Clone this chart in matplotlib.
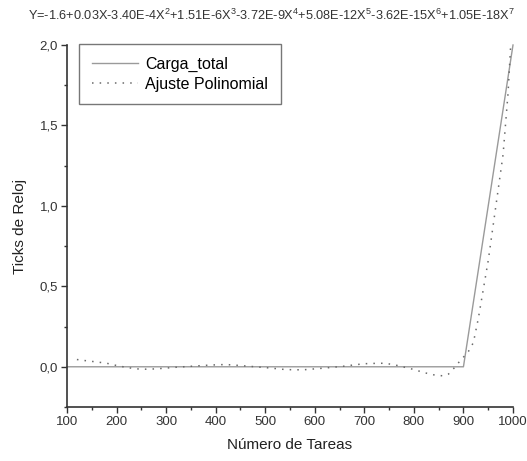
import matplotlib
matplotlib.use("Agg")
import matplotlib.pyplot as plt
from matplotlib.ticker import MultipleLocator, FuncFormatter

plt.rcParams['font.family'] = ['Liberation Sans', 'DejaVu Sans']
plt.rcParams['mathtext.fontset'] = 'custom'
plt.rcParams['mathtext.rm'] = 'Liberation Sans'
plt.rcParams['mathtext.default'] = 'regular'

# Carga total medida
tareas = [100, 200, 300, 400, 500, 600, 700, 800, 900, 1000]
carga_total = [0.0, 0.0, 0.0, 0.0, 0.0, 0.0, 0.0, 0.0, 0.0, 2.0]

# Curva del ajuste polinomial (grado 7)
tareas_ajuste = [120, 140, 160, 180, 200, 220, 240, 260, 280, 300, 320, 340,
                 360, 380, 400, 420, 440, 460, 480, 500, 520, 540, 560, 580,
                 600, 620, 640, 660, 680, 700, 720, 740, 760, 780, 800, 820,
                 840, 860, 870, 880, 890, 900, 910, 920, 930, 940, 950, 960,
                 970, 980, 990, 995]
ajuste = [0.045, 0.037, 0.030, 0.022, 0.008, -0.004, -0.013, -0.015, -0.013,
          -0.008, -0.003, 0.001, 0.005, 0.009, 0.012, 0.014, 0.010, 0.005,
          0.000, -0.005, -0.011, -0.017, -0.019, -0.018, -0.013, -0.008,
          -0.002, 0.004, 0.012, 0.019, 0.021, 0.022, 0.013, -0.002, -0.017,
          -0.036, -0.050, -0.057, -0.045, -0.012, 0.025, 0.060, 0.095, 0.150,
          0.300, 0.480, 0.660, 0.880, 1.100, 1.320, 1.700, 1.980]

titulo = (r"Y=-1.6+0.03X-3.40E-4X$^2$+1.51E-6X$^3$-3.72E-9X$^4$"
          r"+5.08E-12X$^5$-3.62E-15X$^6$+1.05E-18X$^7$")

fig = plt.figure(figsize=(5.27, 4.61), dpi=100)
ax = fig.add_axes([67 / 527, 1 - 407 / 461, 446 / 527, 362 / 461])

ax.plot(tareas, carga_total, '-', color='#9a9a9a', linewidth=1.0,
        label='Carga_total', clip_on=False)
ax.plot(tareas_ajuste, ajuste, linestyle=(0, (1, 4)), color='#6a6a6a',
        linewidth=1.1, label='Ajuste Polinomial')

ax.set_xlim(100, 1000)
ax.set_ylim(-0.25, 2.0)
ax.xaxis.set_major_locator(MultipleLocator(100))
ax.xaxis.set_minor_locator(MultipleLocator(50))
ax.yaxis.set_major_locator(MultipleLocator(0.5))
ax.yaxis.set_minor_locator(MultipleLocator(0.25))
ax.yaxis.set_major_formatter(FuncFormatter(lambda v, p: f"{v:.1f}".replace('.', ',')))

for lado in ('top', 'right'):
    ax.spines[lado].set_visible(False)
for lado in ('left', 'bottom'):
    ax.spines[lado].set_linewidth(1.2)
    ax.spines[lado].set_color('#333333')

ax.tick_params(which='major', direction='out', length=4, width=1.0,
               labelsize=9.5, colors='#333333', pad=2.5)
ax.tick_params(which='minor', direction='out', length=2.5, width=1.0,
               colors='#333333')

ax.set_xlabel("Número de Tareas", fontsize=11, color='#222222', labelpad=7)
ax.set_ylabel("Ticks de Reloj", fontsize=11, color='#222222', labelpad=9)

fig.text(272 / 527, 1 - 15 / 461, titulo, ha='center', va='center',
         fontsize=9.2, color='#333333')

leg = ax.legend(loc='upper left', bbox_to_anchor=(79 / 527, 1 - 44 / 461),
                bbox_transform=fig.transFigure, fontsize=11.5, fancybox=False,
                framealpha=1, edgecolor='#777777', borderaxespad=0,
                handlelength=2.9, handletextpad=0.45, borderpad=0.8,
                labelspacing=0.3)
leg.get_frame().set_linewidth(1.0)

fig.savefig("out.png", dpi=100)
